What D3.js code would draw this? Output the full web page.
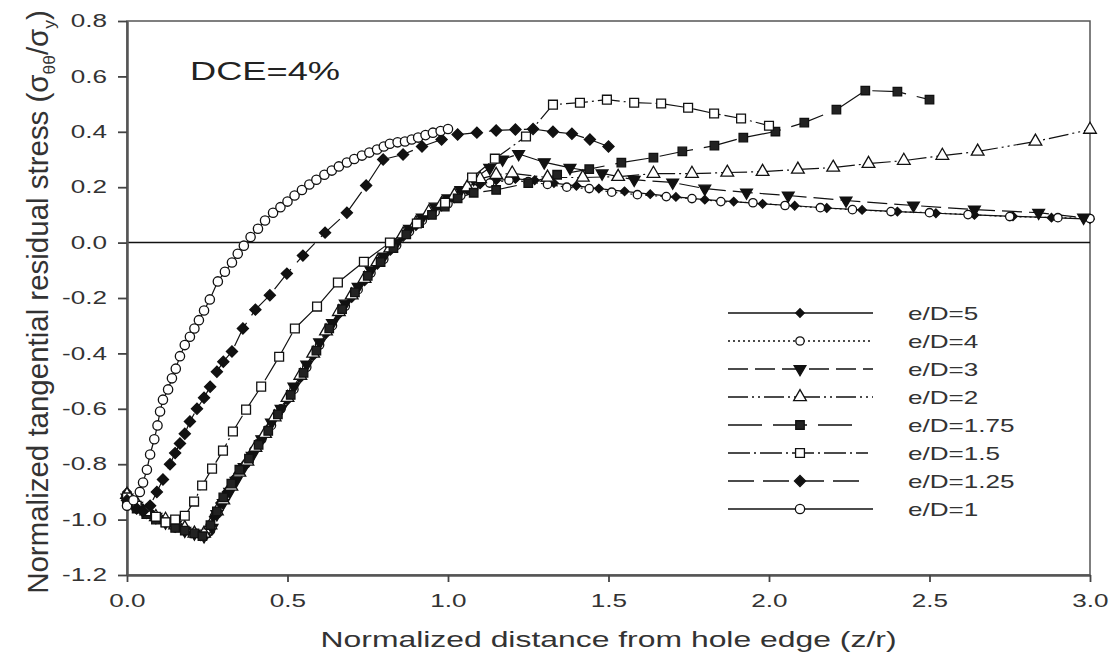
<!DOCTYPE html>
<html>
<head>
<meta charset="utf-8">
<script src="https://cdn.jsdelivr.net/npm/d3@7"></script>
<style>
  body { margin: 0; background: #fff; }
  text { font-family: "Liberation Sans", Arial, Helvetica, sans-serif; }
</style>
</head>
<body>
<div id="chart"></div>
<script>
// ---- data ----
var xTicks = [0.0, 0.5, 1.0, 1.5, 2.0, 2.5, 3.0];
var yTicks = [0.8, 0.6, 0.4, 0.2, 0.0, -0.2, -0.4, -0.6, -0.8, -1.0, -1.2];

var seriesNames = ['e/D=5', 'e/D=4', 'e/D=3', 'e/D=2', 'e/D=1.75', 'e/D=1.5', 'e/D=1.25', 'e/D=1'];

var x5 = [0.00,0.02,0.05,0.08,0.11,0.14,0.17,0.20,0.23,0.255,0.27,0.29,0.31,0.335,0.36,0.385,0.41,0.44,0.47,0.50,0.54,0.58,0.62,0.66,0.70,0.74,0.78,0.82,0.86,0.90,0.94,0.98,1.02,1.06,1.10,1.15,1.21,1.27,1.33,1.40,1.47,1.55,1.63,1.71,1.80,1.89,1.98,2.08,2.18,2.29,2.40,2.52,2.64,2.76,2.88,3.00];
var y5 = [-0.90,-0.93,-0.96,-0.98,-1.00,-1.02,-1.03,-1.05,-1.06,-1.05,-0.99,-0.94,-0.90,-0.85,-0.81,-0.77,-0.72,-0.67,-0.62,-0.57,-0.49,-0.41,-0.33,-0.26,-0.20,-0.14,-0.08,-0.03,0.02,0.06,0.10,0.13,0.16,0.19,0.21,0.225,0.23,0.225,0.215,0.205,0.195,0.185,0.175,0.165,0.155,0.148,0.140,0.133,0.125,0.118,0.112,0.106,0.100,0.095,0.090,0.085];

var x4 = [0.00,0.03,0.06,0.09,0.12,0.15,0.18,0.21,0.24,0.26,0.28,0.30,0.32,0.345,0.37,0.395,0.42,0.45,0.48,0.52,0.56,0.60,0.64,0.68,0.72,0.76,0.80,0.84,0.88,0.92,0.96,1.00,1.04,1.08,1.13,1.19,1.25,1.31,1.37,1.44,1.51,1.59,1.68,1.76,1.85,1.95,2.05,2.16,2.26,2.38,2.50,2.62,2.75,2.90,3.00];
var y4 = [-0.94,-0.96,-0.98,-0.99,-1.01,-1.03,-1.04,-1.05,-1.06,-1.04,-0.98,-0.93,-0.89,-0.84,-0.80,-0.75,-0.71,-0.66,-0.60,-0.53,-0.45,-0.37,-0.30,-0.23,-0.17,-0.11,-0.06,-0.01,0.04,0.08,0.11,0.14,0.17,0.195,0.215,0.225,0.22,0.21,0.20,0.195,0.182,0.173,0.166,0.159,0.148,0.144,0.134,0.126,0.119,0.112,0.108,0.101,0.094,0.090,0.087];

var x3 = [0.00,0.03,0.06,0.09,0.12,0.15,0.18,0.21,0.24,0.265,0.28,0.30,0.32,0.34,0.365,0.39,0.42,0.45,0.48,0.52,0.56,0.60,0.64,0.68,0.72,0.76,0.80,0.84,0.88,0.92,0.96,1.00,1.04,1.08,1.13,1.17,1.22,1.30,1.38,1.48,1.58,1.70,1.80,1.93,2.06,2.24,2.45,2.64,2.84,2.98];
var y3 = [-0.92,-0.95,-0.97,-0.99,-1.01,-1.02,-1.04,-1.05,-1.06,-1.03,-0.98,-0.94,-0.90,-0.86,-0.81,-0.77,-0.71,-0.65,-0.60,-0.52,-0.44,-0.36,-0.29,-0.22,-0.16,-0.10,-0.05,0.00,0.05,0.09,0.13,0.16,0.19,0.23,0.27,0.30,0.32,0.29,0.27,0.25,0.227,0.217,0.195,0.181,0.170,0.152,0.134,0.119,0.108,0.090];

var x2 = [0.00,0.03,0.06,0.09,0.12,0.15,0.18,0.21,0.24,0.26,0.28,0.30,0.325,0.35,0.375,0.40,0.43,0.46,0.50,0.54,0.58,0.62,0.66,0.70,0.74,0.78,0.82,0.86,0.90,0.94,0.98,1.02,1.06,1.10,1.15,1.20,1.31,1.42,1.53,1.64,1.76,1.87,1.98,2.09,2.20,2.31,2.42,2.54,2.65,2.83,3.00];
var y2 = [-0.91,-0.94,-0.97,-0.99,-1.00,-1.02,-1.03,-1.05,-1.05,-1.02,-0.97,-0.93,-0.88,-0.83,-0.79,-0.74,-0.69,-0.63,-0.56,-0.48,-0.40,-0.32,-0.25,-0.19,-0.13,-0.07,-0.02,0.03,0.07,0.11,0.14,0.17,0.20,0.23,0.245,0.25,0.235,0.235,0.238,0.249,0.249,0.253,0.256,0.264,0.271,0.285,0.296,0.314,0.329,0.365,0.408];

var x175 = [0.00,0.03,0.06,0.09,0.12,0.15,0.18,0.21,0.235,0.26,0.28,0.30,0.325,0.35,0.38,0.41,0.44,0.47,0.51,0.55,0.59,0.63,0.67,0.71,0.75,0.79,0.83,0.87,0.91,0.95,0.99,1.03,1.08,1.15,1.25,1.34,1.44,1.54,1.64,1.73,1.83,1.92,2.02,2.11,2.21,2.30,2.40,2.50];
var y175 = [-0.93,-0.96,-0.98,-1.00,-1.01,-1.03,-1.04,-1.05,-1.06,-1.02,-0.97,-0.92,-0.87,-0.82,-0.78,-0.73,-0.68,-0.62,-0.55,-0.47,-0.39,-0.31,-0.24,-0.18,-0.12,-0.07,-0.02,0.03,0.07,0.10,0.13,0.16,0.18,0.19,0.215,0.245,0.265,0.289,0.307,0.329,0.350,0.379,0.401,0.433,0.480,0.549,0.545,0.516];

var x15 = [0.00,0.03,0.06,0.09,0.12,0.15,0.18,0.209,0.234,0.265,0.299,0.330,0.371,0.418,0.474,0.523,0.592,0.657,0.738,0.819,0.903,0.991,1.075,1.146,1.243,1.327,1.411,1.495,1.58,1.664,1.748,1.829,1.913,2.0];
var y15 = [-0.92,-0.95,-0.97,-0.99,-1.01,-1.00,-0.986,-0.935,-0.877,-0.816,-0.751,-0.682,-0.603,-0.52,-0.412,-0.31,-0.231,-0.144,-0.069,0.0,0.069,0.144,0.235,0.303,0.383,0.498,0.505,0.516,0.505,0.502,0.487,0.466,0.448,0.422];

var x125 = [0.00,0.03,0.05,0.072,0.093,0.112,0.134,0.15,0.165,0.18,0.196,0.218,0.24,0.259,0.28,0.30,0.327,0.361,0.40,0.445,0.498,0.548,0.617,0.685,0.745,0.798,0.86,0.919,0.98,1.03,1.09,1.15,1.21,1.265,1.327,1.386,1.442,1.50];
var y125 = [-0.93,-0.96,-0.97,-0.95,-0.90,-0.855,-0.80,-0.76,-0.725,-0.69,-0.646,-0.60,-0.56,-0.52,-0.466,-0.43,-0.393,-0.31,-0.242,-0.19,-0.112,-0.047,0.036,0.108,0.206,0.30,0.318,0.347,0.372,0.39,0.397,0.405,0.408,0.41,0.40,0.393,0.372,0.347];

var x1 = [0.00,0.02,0.04,0.05,0.062,0.072,0.085,0.095,0.103,0.112,0.128,0.14,0.152,0.165,0.18,0.196,0.21,0.224,0.24,0.258,0.283,0.305,0.327,0.345,0.364,0.385,0.408,0.43,0.455,0.478,0.50,0.522,0.545,0.568,0.59,0.615,0.638,0.66,0.685,0.708,0.732,0.755,0.779,0.80,0.819,0.843,0.866,0.887,0.907,0.93,0.953,0.977,1.0];
var y1 = [-0.95,-0.93,-0.90,-0.866,-0.82,-0.765,-0.71,-0.66,-0.61,-0.567,-0.53,-0.49,-0.455,-0.41,-0.37,-0.34,-0.31,-0.28,-0.245,-0.205,-0.14,-0.105,-0.072,-0.04,-0.011,0.02,0.05,0.08,0.108,0.128,0.148,0.17,0.19,0.21,0.227,0.245,0.26,0.275,0.289,0.302,0.314,0.325,0.336,0.347,0.357,0.362,0.365,0.372,0.379,0.388,0.397,0.403,0.41];

// ---- layout ----
var svgWidth = 1110;
var svgHeight = 657;
var margin = { top: 21, right: 20, bottom: 82, left: 127 };
var chartWidth = 1090 - margin.left;
var chartHeight = svgHeight - margin.top - margin.bottom;

// the original figure is stretched sideways, so its lettering is too
var textStretch = 1.45;

var svg = d3.select('#chart').append('svg')
    .attr('width', svgWidth)
    .attr('height', svgHeight);

var chartGroup = svg.append('g')
    .attr('transform', `translate(${margin.left}, ${margin.top})`);

var xScale = d3.scaleLinear().domain([0, 3]).range([0, chartWidth]);
var yScale = d3.scaleLinear().domain([-1.2, 0.8]).range([chartHeight, 0]);

// line / marker style for each series
var styles = {
    'e/D=5':    { dash: null,              symbol: d3.symbolSquare,   fill: '#111', size: 36, rot: 45, len: 145 },
    'e/D=4':    { dash: '2,3',             symbol: d3.symbolCircle,   fill: '#fff', size: 55, len: 145 },
    'e/D=3':    { dash: '20,7',            symbol: d3.symbolTriangle, fill: '#111', size: 60, rot: 180, len: 145 },
    'e/D=2':    { dash: '20,4,2,4,2,4',    symbol: d3.symbolTriangle, fill: '#fff', size: 70, len: 145 },
    'e/D=1.75': { dash: '34,11',           symbol: d3.symbolSquare,   fill: '#222', size: 72, len: 134 },
    'e/D=1.5':  { dash: '22,4,2,4',        symbol: d3.symbolSquare,   fill: '#fff', size: 78, len: 140 },
    'e/D=1.25': { dash: '26,9',            symbol: d3.symbolSquare,   fill: '#111', size: 62, rot: 45, len: 137 },
    'e/D=1':    { dash: null,              symbol: d3.symbolCircle,   fill: '#fff', size: 68, len: 145 }
};

var seriesData = [
    { name: 'e/D=5', xs: x5, ys: y5 },
    { name: 'e/D=4', xs: x4, ys: y4 },
    { name: 'e/D=3', xs: x3, ys: y3 },
    { name: 'e/D=2', xs: x2, ys: y2 },
    { name: 'e/D=1.75', xs: x175, ys: y175 },
    { name: 'e/D=1.5', xs: x15, ys: y15 },
    { name: 'e/D=1.25', xs: x125, ys: y125 },
    { name: 'e/D=1', xs: x1, ys: y1 }
].map(function(s) {
    s.points = s.xs.map(function(v, i) { return { x: v, y: s.ys[i] }; });
    return s;
});

// frame (top and right)
chartGroup.append('rect')
    .attr('x', 0).attr('y', 0)
    .attr('width', chartWidth).attr('height', chartHeight)
    .attr('fill', 'none')
    .attr('stroke', '#555')
    .attr('stroke-width', 1.5);

// zero line
chartGroup.append('line')
    .attr('x1', 0).attr('x2', chartWidth)
    .attr('y1', yScale(0)).attr('y2', yScale(0))
    .attr('stroke', '#111')
    .attr('stroke-width', 1.5);

// axes
var bottomAxis = d3.axisBottom(xScale).tickValues(xTicks).tickSize(7).tickSizeOuter(0).tickPadding(12)
    .tickFormat(d3.format('.1f'));
var leftAxis = d3.axisLeft(yScale).tickValues(yTicks).tickSize(9).tickSizeOuter(0)
    .tickFormat(d => d3.format('.1f')(d).replace('\u2212', '-'));

var xAxis = chartGroup.append('g')
    .attr('transform', `translate(0, ${chartHeight})`)
    .call(bottomAxis);
var yAxis = chartGroup.append('g')
    .call(leftAxis);

[xAxis, yAxis].forEach(function(ax) {
    ax.select('.domain').attr('stroke', '#555').attr('stroke-width', 2.5);
    ax.selectAll('.tick line').attr('stroke', '#444').attr('stroke-width', 1.8);
    ax.selectAll('.tick text')
        .attr('fill', '#333')
        .attr('font-size', '18px')
        .style('font-family', '"Liberation Sans", Arial, sans-serif');
});
xAxis.selectAll('.tick text')
    .attr('transform', `scale(${textStretch},1)`);
yAxis.selectAll('.tick text')
    .attr('x', 0)
    .attr('transform', `translate(-20,0) scale(${textStretch},1)`);

// series lines
var line = d3.line()
    .x(d => xScale(d.x))
    .y(d => yScale(d.y));

seriesData.forEach(function(s) {
    var st = styles[s.name];
    chartGroup.append('path')
        .datum(s.points)
        .attr('d', line)
        .attr('fill', 'none')
        .attr('stroke', '#111')
        .attr('stroke-width', 1.2)
        .attr('stroke-dasharray', st.dash);
});

// markers
function drawMarker(group, st, cx, cy) {
    group.append('path')
        .attr('d', d3.symbol().type(st.symbol).size(st.size)())
        .attr('transform', `translate(${cx},${cy})` + (st.rot ? ` rotate(${st.rot})` : ''))
        .attr('fill', st.fill)
        .attr('stroke', '#111')
        .attr('stroke-width', 1.3);
}

seriesData.forEach(function(s) {
    var st = styles[s.name];
    var g = chartGroup.append('g');
    s.points.forEach(function(p) {
        drawMarker(g, st, xScale(p.x), yScale(p.y));
    });
});

// annotation
svg.append('text')
    .attr('transform', `translate(190, 80) scale(${textStretch},1)`)
    .attr('font-size', '25px')
    .attr('fill', '#222')
    .text('DCE=4%');

// legend
var legend = svg.append('g').attr('transform', 'translate(728, 313)');
seriesNames.forEach(function(name, i) {
    var st = styles[name];
    var row = legend.append('g').attr('transform', `translate(0, ${i * 28})`);
    row.append('line')
        .attr('x1', 0).attr('x2', st.len)
        .attr('y1', 0).attr('y2', 0)
        .attr('stroke', '#111')
        .attr('stroke-width', 1.3)
        .attr('stroke-dasharray', st.dash);
    drawMarker(row, st, 72, 0);
    row.append('text')
        .attr('transform', `translate(180, 7) scale(${textStretch},1)`)
        .attr('font-size', '18px')
        .attr('fill', '#333')
        .text(name);
});

// axis titles
svg.append('text')
    .attr('transform', `translate(${margin.left + chartWidth / 2}, 647) scale(${textStretch},1)`)
    .attr('text-anchor', 'middle')
    .attr('font-size', '22px')
    .attr('fill', '#333')
    .text('Normalized distance from hole edge (z/r)');

var yTitle = svg.append('text')
    .attr('transform', 'translate(48, 302) rotate(-90) scale(1.34,1.3)')
    .attr('text-anchor', 'middle')
    .attr('font-size', '22px')
    .attr('fill', '#333');
yTitle.append('tspan').text('Normalized tangential residual stress (\u03c3');
yTitle.append('tspan').attr('font-size', '13px').attr('dy', 5).text('\u03b8\u03b8');
yTitle.append('tspan').attr('dy', -5).text('/\u03c3');
yTitle.append('tspan').attr('font-size', '13px').attr('dy', 5).text('y');
yTitle.append('tspan').attr('dy', -5).text(')');
</script>
</body>
</html>
